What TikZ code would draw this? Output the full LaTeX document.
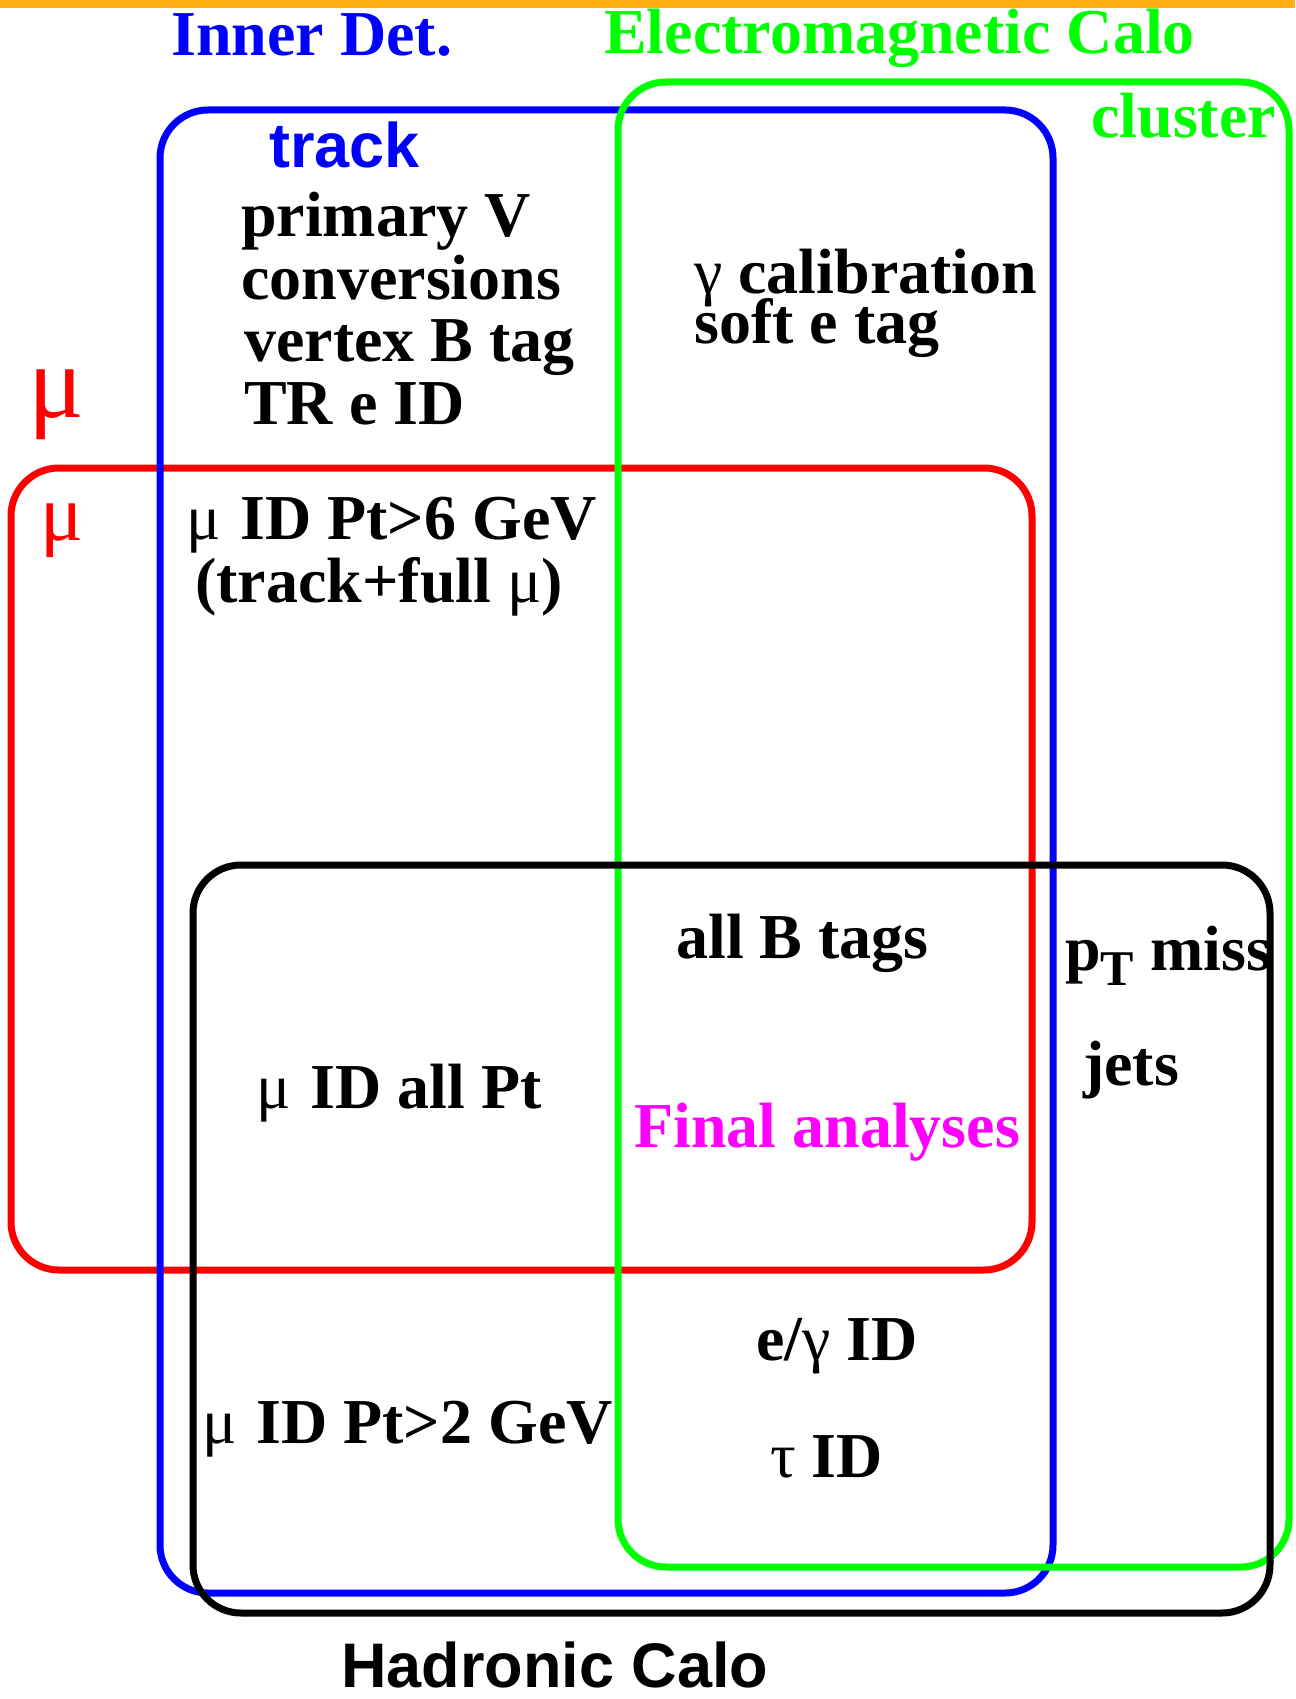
\documentclass[tikz,border=0pt]{standalone}
\usepackage{fontspec}
\setmainfont{Liberation Serif}
\setsansfont{Liberation Sans}
\begin{document}
\begin{tikzpicture}[x=1pt,y=-1pt,
  box/.style={line width=7pt,rounded corners=48pt},
  lbl/.style={inner sep=0pt,anchor=base west,font=\fontsize{64}{64}\selectfont\bfseries},
  slbl/.style={inner sep=0pt,anchor=base west,font=\fontsize{63}{63}\selectfont\sffamily\bfseries},
  greek/.style={inner sep=0pt,anchor=base west}]
\definecolor{orangebar}{RGB}{255,176,16}
\definecolor{pblue}{RGB}{0,0,255}
\definecolor{pgreen}{RGB}{0,255,0}
\definecolor{pred}{RGB}{255,0,0}
\definecolor{pmag}{RGB}{255,0,255}
\newcommand{\gk}[1]{{\mdseries #1}}
\newcommand{\mymu}{{\mdseries μ}\hspace{4pt}}
\useasboundingbox (0,0) rectangle (1295,1699);
\fill[orangebar] (0,0) rectangle (1295,8);
% boxes
\draw[box,pred] (11,468) rectangle (1032,1270);
\draw[box,pblue] (160,110) rectangle (1053,1593);
\draw[box,pgreen] (618,82) rectangle (1289,1567);
\draw[box,black] (193,865) rectangle (1270,1613);
% titles
\node[lbl,text=pblue] (inner) at (171,56) {Inner Det.};
\node[lbl,text=pgreen] (em) at (604,54) {Electromagnetic Calo};
\node[lbl,text=pgreen] (cluster) at (1091,138) {cluster};
\node[slbl,text=pblue] (track) at (269,168) {track};
\node[slbl,text=black] (had) at (341,1687) {Hadronic Calo};
\node[greek,text=pred,font=\fontsize{104}{104}\selectfont] (mubig) at (28,417) {μ};
\node[greek,text=pred,font=\fontsize{80}{80}\selectfont] (musmall) at (40,540) {μ};
% inner detector texts
\node[lbl] (pv) at (241,236) {primary V};
\node[lbl] (conv) at (241,299) {conversions};
\node[lbl] (vtx) at (244,361) {vertex B tag};
\node[lbl] (tr) at (244,424) {TR e ID};
\node[lbl] (gcal) at (694,293) {\gk{γ} calibration};
\node[lbl] (soft) at (694,343) {soft e tag};
\node[lbl] (mu6) at (186,539) {\mymu{} ID Pt>6 GeV};
\node[lbl] (mu6b) at (195,602) {(track+full \gk{μ})};
\node[lbl] (btag) at (676,958) {all B tags};
\node[lbl] (ptm) at (1065,970) {p\raisebox{-15pt}{\fontsize{50}{50}\selectfont T} miss};
\node[lbl] (jets) at (1083,1085) {jets};
\node[lbl] (muall) at (256,1108) {\mymu{} ID all Pt};
\node[lbl,text=pmag] (final) at (634,1147) {Final analyses};
\node[lbl] (eg) at (756,1360) {e/\gk{γ} ID};
\node[lbl] (mu2) at (202,1443) {\mymu{} ID Pt>2 GeV};
\node[lbl] (tau) at (770,1477) {\gk{τ} ID};
\end{tikzpicture}
\end{document}
